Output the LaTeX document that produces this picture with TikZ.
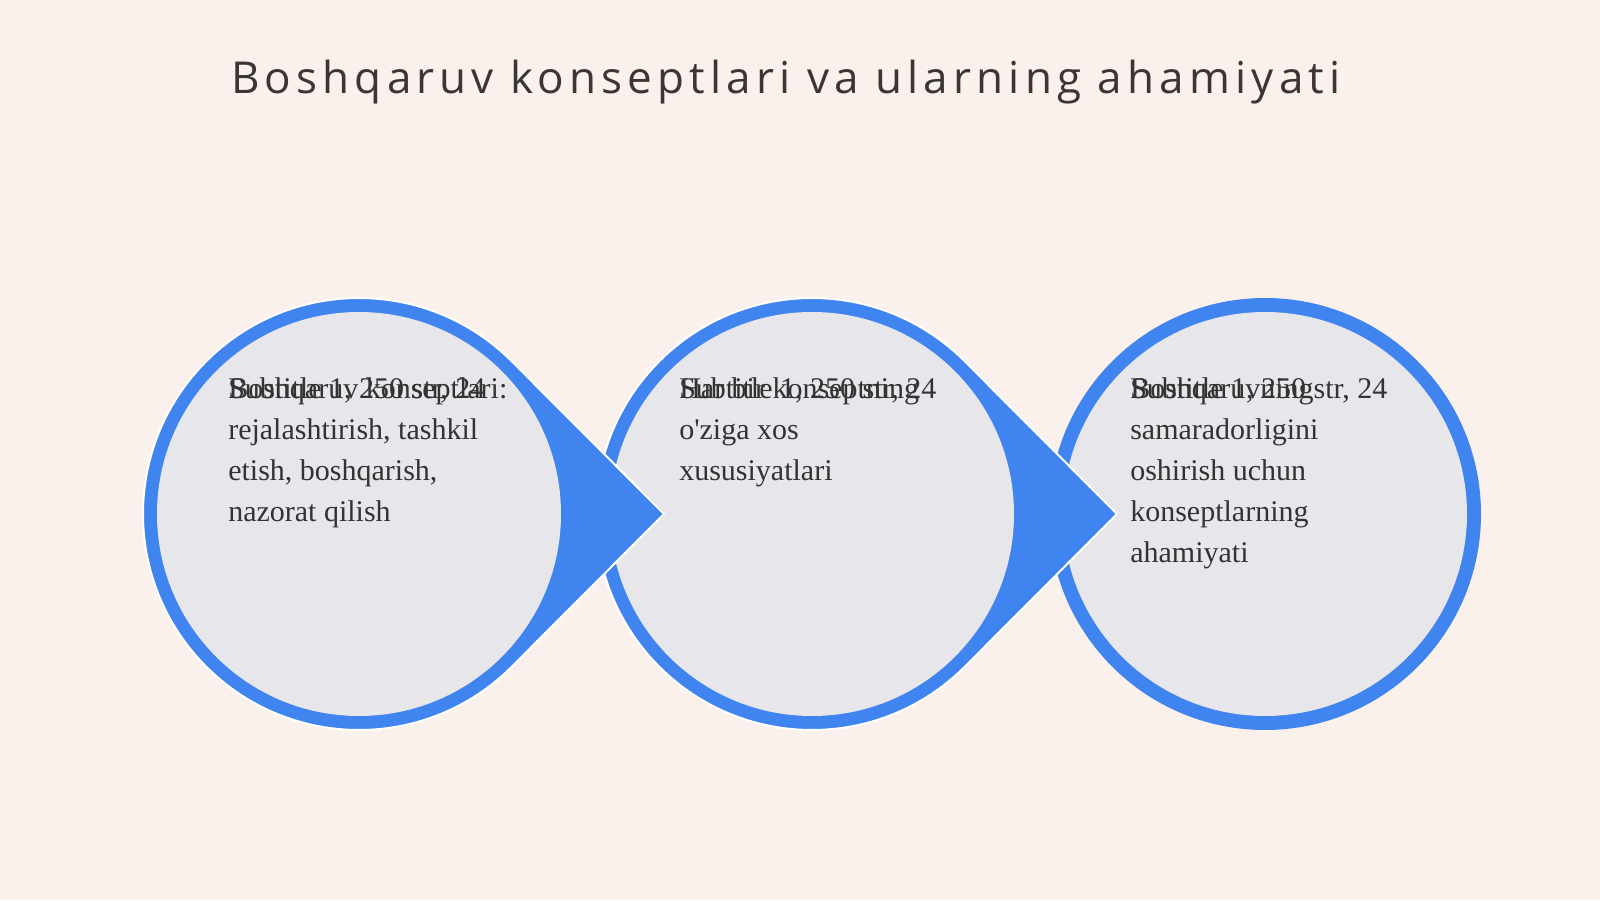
\documentclass[tikz,border=0pt]{standalone}
\usepackage{fontspec}
\usepackage{xcolor}
\usetikzlibrary{calc}
\newfontfamily\titlefont[LetterSpace=11.7]{Open Sans}
\newfontfamily\bodyfont[Ligatures=TeXOff]{Liberation Serif}
\definecolor{bg}{HTML}{FAF1EC}
\definecolor{ringblue}{HTML}{4084F0}
\definecolor{corefill}{HTML}{E7E6EB}
\definecolor{ink}{HTML}{333333}
\definecolor{titleink}{HTML}{3A3636}
\tikzset{
  drop/.style={fill=ringblue, draw=white, line width=1.5pt, line join=miter},
  ring/.style={fill=ringblue},
  core/.style={fill=corefill},
  lab/.style={text=ink, font=\bodyfont\fontsize{22.5pt}{30.75pt}\selectfont, inner sep=0pt, align=left, anchor=north west},
  head/.style={text=titleink, font=\titlefont\fontsize{33pt}{40pt}\selectfont, inner sep=0pt, anchor=base west}
}

\begin{document}
\begin{tikzpicture}[x=0.75pt,y=0.75pt]
  \def\R{216}
  \def\r{202}
  \def\tipd{305}
  \fill[bg] (0,0) rectangle (1600,900);
  \useasboundingbox (0,0) rectangle (1600,900);

  \coordinate (C1) at (359,386);
  \coordinate (C2) at (812,386);
  \coordinate (C3) at (1265,386);
  \coordinate (T1) at ($(C1)+(\tipd,0)$);
  \coordinate (T2) at ($(C2)+(\tipd,0)$);

  \node[head] (title) at (231,806.5) {Boshqaruv konseptlari va ularning ahamiyati};

  % last circle first, so each pointer lies over the next one
  \fill[ring] (C3) circle (\R);
  \fill[core] (C3) circle (\r);

  \draw[drop] ($(C2)+(45:\R)$) arc[start angle=45, end angle=315, radius=\R] -- (T2) -- cycle;
  \fill[core] (C2) circle (\r);

  \draw[drop] ($(C1)+(45:\R)$) arc[start angle=45, end angle=315, radius=\R] -- (T1) -- cycle;
  \fill[core] (C1) circle (\r);

  \node[lab] (body1) at (228,522.8) {Boshqaruv konseptlari:\\rejalashtirish, tashkil\\etish, boshqarish,\\nazorat qilish};
  \node[lab] (sub1) at (body1.north west) {Subtitle 1, 250 str, 24};

  \node[lab] (body2) at (679,522.8) {Har bir konseptning\\o'ziga xos\\xususiyatlari};
  \node[lab] (sub2) at (body2.north west) {Subtitle 1, 250 str, 24};

  \node[lab] (body3) at (1130,522.8) {Boshqaruvning\\samaradorligini\\oshirish uchun\\konseptlarning\\ahamiyati};
  \node[lab] (sub3) at (body3.north west) {Subtitle 1, 250 str, 24};
\end{tikzpicture}
\end{document}
